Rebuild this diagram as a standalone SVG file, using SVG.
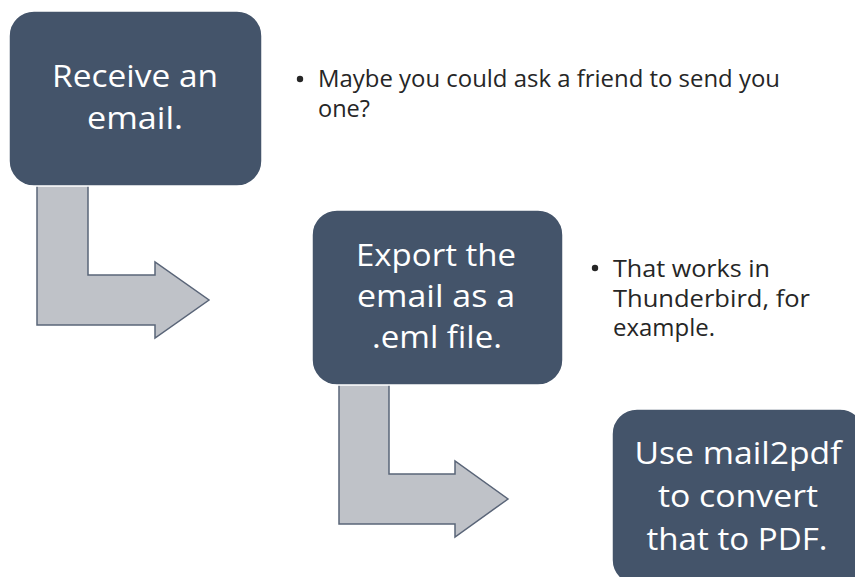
<svg xmlns="http://www.w3.org/2000/svg" width="855" height="577" viewBox="0 0 855 577">
<style>
.box{fill:#44546A;stroke:#ffffff;stroke-width:1.5}
.arrow{fill:#BFC2C8;stroke:#5A6578;stroke-width:1.5;stroke-linejoin:miter}
.bt{font-family:"Open Sans","Liberation Sans",sans-serif;font-size:31px;fill:#ffffff;text-anchor:middle}
.nt{font-family:"Open Sans","Liberation Sans",sans-serif;font-size:23px;fill:#262626}
.dot{fill:#262626}
</style>
<rect width="855" height="577" fill="#ffffff"/>
<g id="connectors">
<polygon class="arrow" points="37,180 37,325 155,325 155,338 209,300 155,262 155,275 88,275 88,180"/>
<polygon class="arrow" points="339,380 339,524 455,524 455,537 508,499 455,461 455,474 389,474 389,380"/>
</g>
<g id="node1">
<rect class="box" x="9" y="11" width="253" height="175" rx="25" ry="25"/>
<text class="bt" x="135" y="87" textLength="166" lengthAdjust="spacingAndGlyphs">Receive an</text>
<text class="bt" x="135" y="129" textLength="96" lengthAdjust="spacingAndGlyphs">email.</text>
</g>
<g id="note1">
<circle class="dot" cx="300" cy="79" r="3.2"/>
<text class="nt" x="318" y="87" textLength="462" lengthAdjust="spacingAndGlyphs">Maybe you could ask a friend to send you</text>
<text class="nt" x="318" y="117" textLength="52" lengthAdjust="spacingAndGlyphs">one?</text>
</g>
<g id="node2">
<rect class="box" x="312" y="210" width="251" height="175" rx="25" ry="25"/>
<text class="bt" x="436" y="266" textLength="160" lengthAdjust="spacingAndGlyphs">Export the</text>
<text class="bt" x="436" y="307" textLength="158" lengthAdjust="spacingAndGlyphs">email as a</text>
<text class="bt" x="437" y="348" textLength="130" lengthAdjust="spacingAndGlyphs">.eml file.</text>
</g>
<g id="note2">
<circle class="dot" cx="595" cy="268" r="3.2"/>
<text class="nt" x="613" y="277" textLength="157" lengthAdjust="spacingAndGlyphs">That works in</text>
<text class="nt" x="613" y="307" textLength="197" lengthAdjust="spacingAndGlyphs">Thunderbird, for</text>
<text class="nt" x="613" y="336" textLength="102" lengthAdjust="spacingAndGlyphs">example.</text>
</g>
<g id="node3">
<rect class="box" x="612" y="409" width="253" height="176" rx="25" ry="25"/>
<text class="bt" x="738" y="464" textLength="207" lengthAdjust="spacingAndGlyphs">Use mail2pdf</text>
<text class="bt" x="738" y="507" textLength="160" lengthAdjust="spacingAndGlyphs">to convert</text>
<text class="bt" x="737" y="550" textLength="181" lengthAdjust="spacingAndGlyphs">that to PDF.</text>
</g>
</svg>
